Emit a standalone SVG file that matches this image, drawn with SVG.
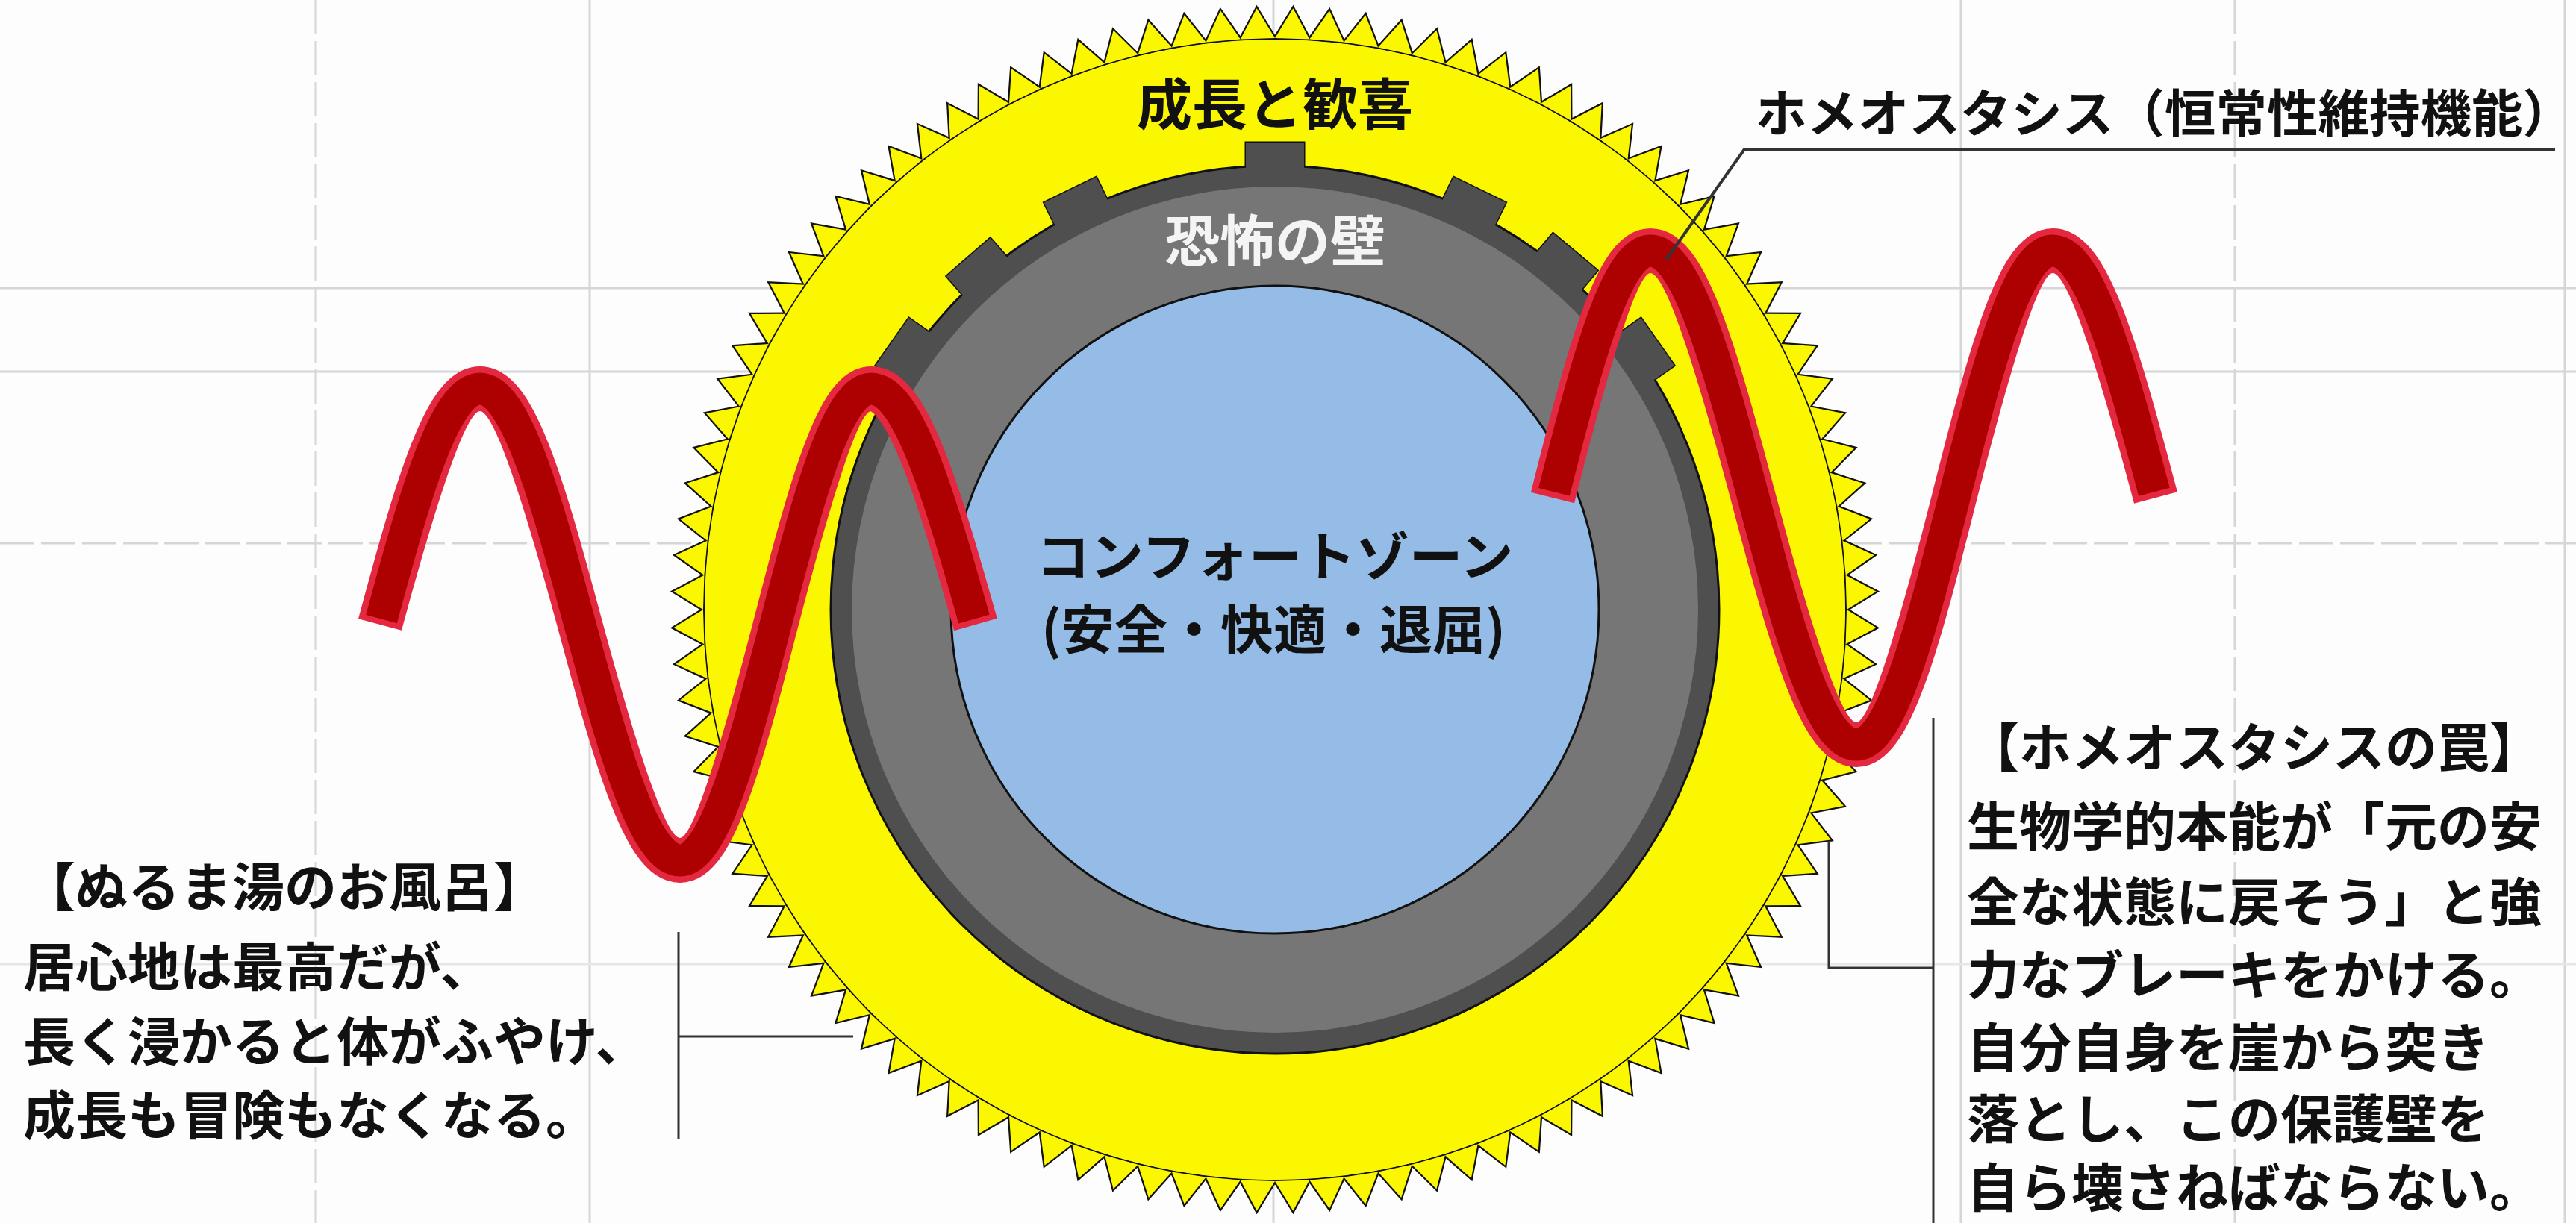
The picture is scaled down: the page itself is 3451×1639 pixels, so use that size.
<svg xmlns="http://www.w3.org/2000/svg" width="3451" height="1639" viewBox="0 0 3451 1639">
<style>
.t{font-family:"Noto Sans CJK JP","Noto Sans CJK SC",sans-serif;font-weight:700;fill:#111}
.grid line{stroke:#d6d6d6;stroke-width:3}
.grid .d{stroke-dasharray:46 9}
.con{fill:none;stroke:#333;stroke-width:3}
.wout{fill:none;stroke:#e3283f;stroke-width:60;stroke-linecap:butt;stroke-linejoin:round}
.win{fill:none;stroke:#ad0000;stroke-width:43;stroke-linecap:butt;stroke-linejoin:round;stroke-dasharray:0 3.6 992.8 100}
</style>
<defs>
<path id="sp" d="M-23.14,-765.65 L0,-806 L23.14,-765.65 Z"/>
<g id="s2"><use href="#sp"/><use href="#sp" transform="rotate(3.461538)"/></g>
<g id="s4"><use href="#s2"/><use href="#s2" transform="rotate(6.923077)"/></g>
<g id="s8"><use href="#s4"/><use href="#s4" transform="rotate(13.846154)"/></g>
<g id="s16"><use href="#s8"/><use href="#s8" transform="rotate(27.692308)"/></g>
<g id="s32"><use href="#s16"/><use href="#s16" transform="rotate(55.384615)"/></g>
<g id="s64"><use href="#s32"/><use href="#s32" transform="rotate(110.769231)"/></g>
<g id="s104"><use href="#s64"/><use href="#s32" transform="rotate(221.538462)"/><use href="#s8" transform="rotate(332.307692)"/></g>
<g id="merlons">
<rect x="-39" y="-626" width="78" height="46"/>
<rect x="-39" y="-626" width="78" height="46" transform="rotate(-26)"/>
<rect x="-39" y="-626" width="78" height="46" transform="rotate(26)"/>
<rect x="-39" y="-626" width="78" height="46" transform="rotate(-41)"/>
<rect x="-39" y="-626" width="78" height="46" transform="rotate(40)"/>
<rect x="-39" y="-626" width="78" height="46" transform="rotate(-55)"/>
<rect x="-39" y="-626" width="78" height="46" transform="rotate(55)"/>
</g>
</defs>
<rect width="3451" height="1639" fill="#fdfdfd"/>
<g class="grid">
<line class="d" x1="423" y1="0" x2="423" y2="1639"/>
<line x1="790" y1="0" x2="790" y2="1639"/>
<line x1="1706" y1="0" x2="1706" y2="1639"/>
<line x1="2627" y1="0" x2="2627" y2="1639"/>
<line class="d" x1="2994" y1="0" x2="2994" y2="1639"/>
<line x1="3436" y1="0" x2="3436" y2="1639"/>
<line x1="0" y1="386" x2="3451" y2="386"/>
<line x1="0" y1="498" x2="3451" y2="498"/>
<line class="d" x1="0" y1="728" x2="3451" y2="728"/>
<line x1="0" y1="1292" x2="3451" y2="1292" style="stroke:#e6e6e6"/>
</g>
<g id="growth">
<g transform="translate(1708,817) rotate(1.730769)">
<use href="#s104" fill="#fbf700" stroke="#111" stroke-width="4.5" stroke-linejoin="miter"/>
<circle r="764" fill="#fbf700"/>
<use href="#s104" fill="#fbf700"/>
</g>
<text class="t" x="1708" y="167" font-size="74" text-anchor="middle">成長と歓喜</text>
</g>
<g id="wall">
<g transform="translate(1708,817)">
<use href="#merlons" fill="#4f4f4f" stroke="#111" stroke-width="3"/>
<circle r="595" fill="#4f4f4f" stroke="#111" stroke-width="3"/>
<use href="#merlons" fill="#4f4f4f"/>
<circle r="567" fill="#767676"/>
</g>
<text class="t" x="1708" y="350" font-size="74" text-anchor="middle" style="fill:#f4f4f4">恐怖の壁</text>
</g>
<g id="comfort">
<circle cx="1708" cy="817" r="434" fill="#95bce6" stroke="#111" stroke-width="3"/>
<text class="t" x="1708" y="772" font-size="70" text-anchor="middle" textLength="639" lengthAdjust="spacingAndGlyphs">コンフォートゾーン</text>
<text class="t" x="1706" y="870" font-size="70" text-anchor="middle" textLength="622" lengthAdjust="spacingAndGlyphs">(安全・快適・退屈)</text>
</g>
<g id="wave-left">
<path class="wout" d="M509,837 C553.8,671.1 594.8,521 643,521 C691.2,521 732.2,671.1 777,837 C821.8,1002.9 862.8,1153 911,1153 C957.1,1153 996.2,1002.9 1039,837 C1081.8,671.1 1120.9,521 1167,521 C1217.4,521 1260.2,671.1 1307,837"/>
<path class="win" pathLength="1000" d="M509,837 C553.8,671.1 594.8,521 643,521 C691.2,521 732.2,671.1 777,837 C821.8,1002.9 862.8,1153 911,1153 C957.1,1153 996.2,1002.9 1039,837 C1081.8,671.1 1120.9,521 1167,521 C1217.4,521 1260.2,671.1 1307,837"/>
</g>
<g id="wave-right">
<path class="wout" d="M2080,667 C2123.8,493.2 2163.9,336 2211,336 C2260.7,336 2302.9,493.2 2349,667 C2395.1,840.8 2437.3,998 2487,998 C2534.1,998 2574.2,840.8 2618,667 C2662.1,493.2 2702.5,336 2750,336 C2799.7,336 2841.9,493.2 2888,667"/>
<path class="win" pathLength="1000" d="M2080,667 C2123.8,493.2 2163.9,336 2211,336 C2260.7,336 2302.9,493.2 2349,667 C2395.1,840.8 2437.3,998 2487,998 C2534.1,998 2574.2,840.8 2618,667 C2662.1,493.2 2702.5,336 2750,336 C2799.7,336 2841.9,493.2 2888,667"/>
</g>
<g id="connectors">
<polyline class="con" points="2232,348 2337,200 3423,200" style="stroke-width:4"/>
<polyline class="con" points="909,1249 909,1526"/>
<polyline class="con" points="909,1389 1143,1389"/>
<polyline class="con" points="2450,1127 2450,1297 2590,1297"/>
<polyline class="con" points="2590,962 2590,1639"/>
</g>
<g id="homeostasis-label">
<text class="t" x="2352" y="177" font-size="68.5">ホメオスタシス（恒常性維持機能）</text>
</g>
<g id="bath-note">
<text class="t" x="31" y="1215" font-size="70">【ぬるま湯のお風呂】</text>
<text class="t" x="31" y="1322" font-size="70">居心地は最高だが、</text>
<text class="t" x="31" y="1422" font-size="70">長く浸かると体がふやけ、</text>
<text class="t" x="31" y="1521" font-size="70">成長も冒険もなくなる。</text>
</g>
<g id="trap-note">
<text class="t" x="2635" y="1028" font-size="70">【ホメオスタシスの罠】</text>
<text class="t" x="2635" y="1134" font-size="70">生物学的本能が「元の安</text>
<text class="t" x="2635" y="1235" font-size="70">全な状態に戻そう」と強</text>
<text class="t" x="2635" y="1333" font-size="70">力なブレーキをかける。</text>
<text class="t" x="2635" y="1430" font-size="70">自分自身を崖から突き</text>
<text class="t" x="2635" y="1526" font-size="70">落とし、この保護壁を</text>
<text class="t" x="2635" y="1618" font-size="70">自ら壊さねばならない。</text>
</g>
</svg>
